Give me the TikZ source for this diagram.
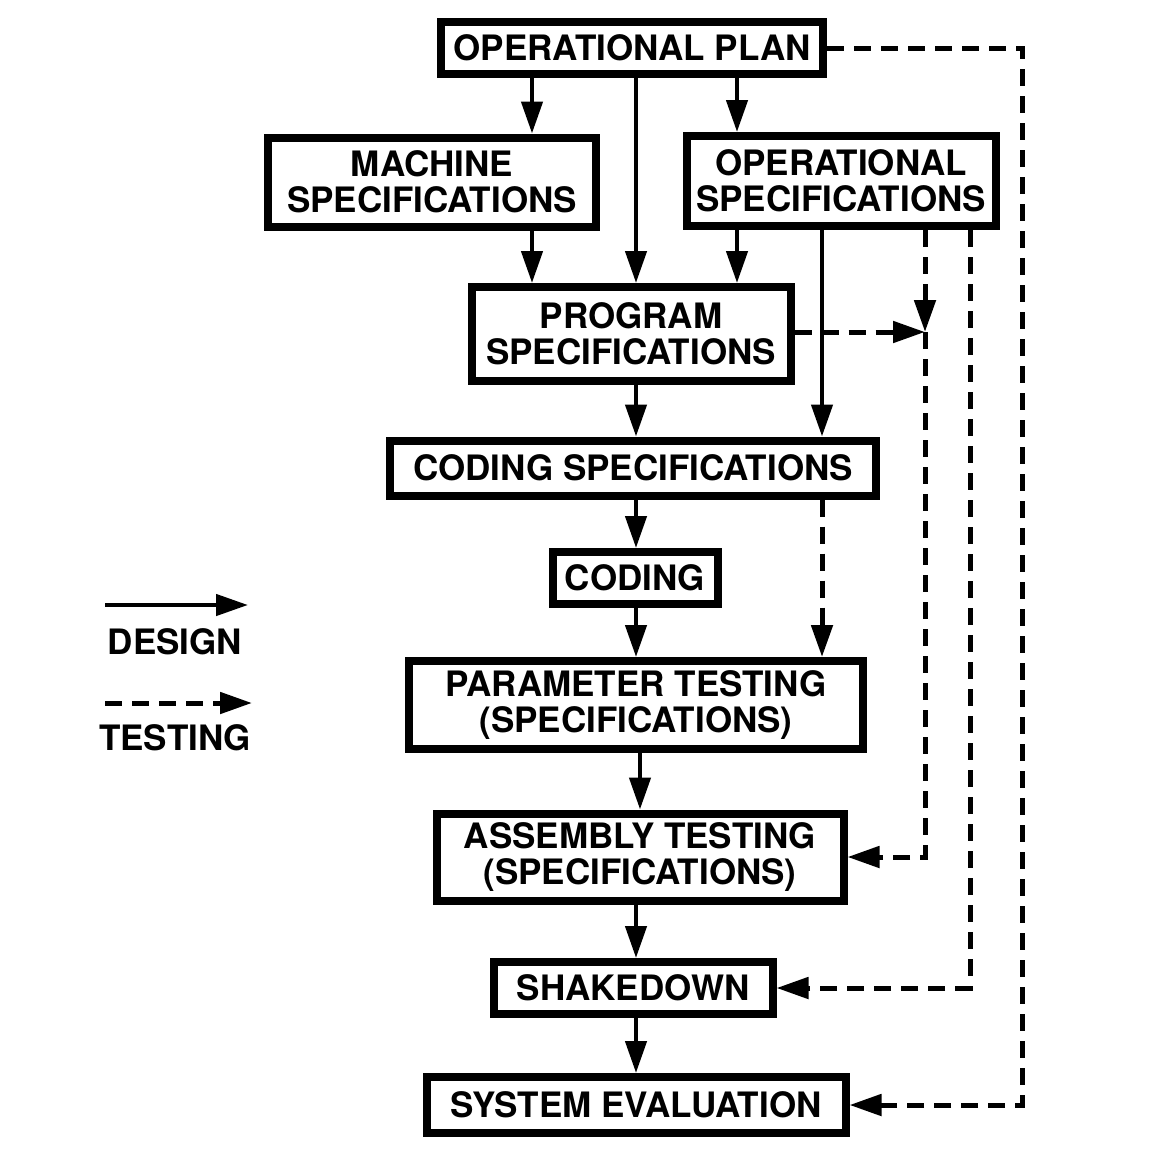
\documentclass[tikz,border=0pt]{standalone}
\usepackage{fontspec}
\setmainfont{TeX Gyre Heros}
\usetikzlibrary{arrows.meta,calc}

\tikzset{
  box/.style={draw, line width=8pt, inner sep=0pt, align=center,
    font=\bfseries\fontsize{35}{36}\selectfont},
  legendtext/.style={font=\bfseries\fontsize{35}{36}\selectfont},
  design/.style={line width=4.5pt, -{Triangle[length=32pt,width=21pt]}},
  testing/.style={design, line width=5pt, dash pattern=on 17pt off 10pt},
}

\begin{document}
\begin{tikzpicture}[x=1pt,y=-1pt]
\useasboundingbox (0,0) rectangle (1150,1154);

% draw boxes
\node [box, minimum width=382pt, minimum height=52pt] (plan) at (632,48) {OPERATIONAL PLAN};
\node [box, minimum width=328pt, minimum height=89pt] (machine) at (432,182) {MACHINE\\SPECIFICATIONS};
\node [box, minimum width=309pt, minimum height=90pt] (opspec) at (841,181) {OPERATIONAL\\SPECIFICATIONS};
\node [box, minimum width=319pt, minimum height=94pt] (program) at (631,334) {PROGRAM\\SPECIFICATIONS};
\node [box, minimum width=486pt, minimum height=55pt] (codespec) at (633,468) {CODING SPECIFICATIONS};
\node [box, minimum width=165pt, minimum height=52pt] (coding) at (635,578) {CODING};
\node [box, minimum width=454pt, minimum height=88pt] (param) at (636,705) {PARAMETER TESTING\\(SPECIFICATIONS)};
\node [box, minimum width=407pt, minimum height=87pt] (assembly) at (640,857) {ASSEMBLY TESTING\\(SPECIFICATIONS)};
\node [box, minimum width=279pt, minimum height=52pt] (shake) at (633,988) {SHAKEDOWN};
\node [box, minimum width=419pt, minimum height=56pt] (syseval) at (636,1105) {SYSTEM EVALUATION};

% columns of the connectors
\coordinate (xl) at (532,0);
\coordinate (xm) at (636,0);
\coordinate (xr) at (737,0);
\coordinate (xc) at (822,0);
\coordinate (mrg) at (925,332);
\coordinate (xs) at (970,0);
\coordinate (xe) at (1022,0);

% design arrows
\draw [design] (plan.south -| xl) -- (machine.north -| xl);
\draw [design] (plan.south -| xm) -- (program.north -| xm);
\draw [design] (plan.south -| xr) -- (opspec.north -| xr);
\draw [design] (machine.south -| xl) -- (program.north -| xl);
\draw [design] (opspec.south -| xr) -- (program.north -| xr);
\draw [design] (opspec.south -| xc) -- (codespec.north -| xc);
\draw [design] (program.south -| xm) -- (codespec.north -| xm);
\draw [design] (codespec.south -| xm) -- (coding.north -| xm);
\draw [design] (coding.south -| xm) -- (param.north -| xm);
\draw [design] (param.south -| assembly.north) -- (assembly.north);
\draw [design] (assembly.south -| xm) -- (shake.north -| xm);
\draw [design] (shake.south -| xm) -- (syseval.north -| xm);

% testing arrows
\draw [testing] (codespec.south -| xc) -- (param.north -| xc);
\draw [testing] (opspec.south -| mrg) -- (mrg);
\draw [testing] (program.east |- mrg) -- (mrg);
\draw [testing] (mrg) -- (assembly.east -| mrg) -- (assembly.east);
\draw [testing] (opspec.south -| xs) -- (shake.east -| xs) -- (shake.east);
\draw [testing] (plan.east) -- (plan.east -| xe) -- (syseval.east -| xe) -- (syseval.east);

% legend
\coordinate (dsgn0) at (105,605);
\coordinate (dsgn1) at (248,605);
\coordinate (tst0) at (105,703);
\coordinate (tst1) at (252,703);
\draw [design] (dsgn0) -- (dsgn1);
\node [legendtext] (dsgnlabel) at (175,642) {DESIGN};
\draw [testing] (tst0) -- (tst1);
\node [legendtext] (tstlabel) at (175,738) {TESTING};

\end{tikzpicture}
\end{document}
